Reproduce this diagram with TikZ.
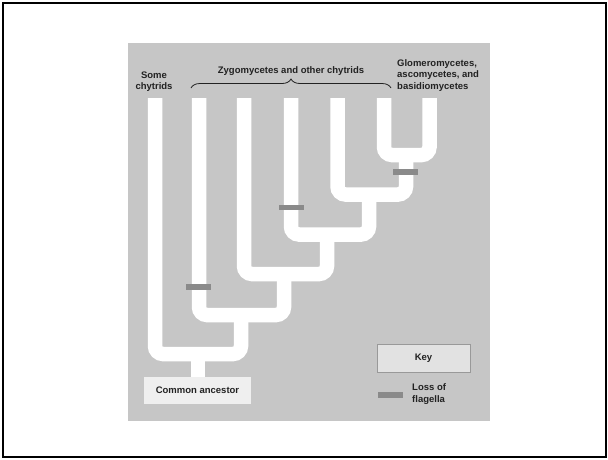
\documentclass[tikz,border=0pt]{standalone}
\usepackage{fontspec}
\setmainfont{Liberation Sans}
\usetikzlibrary{decorations.pathreplacing}

\definecolor{panelgray}{HTML}{C6C6C6}
\definecolor{lossgray}{HTML}{8A8A8A}
\definecolor{boxgray}{HTML}{EFEFEF}
\definecolor{keygray}{HTML}{E2E2E2}
\definecolor{txtgray}{HTML}{222222}

\begin{document}
\begin{tikzpicture}[x=1pt,y=-1pt,
    branch/.style={white,line width=14.5pt,rounded corners=8pt},
    lossbar/.style={fill=lossgray},
    lbl/.style={font=\bfseries\fontsize{9.5}{11.5}\selectfont,text=txtgray,inner sep=0pt}]
    \useasboundingbox (0,0) rectangle (608,459);
    \draw[line width=2pt] (3,3) rectangle (606,457);
    \fill[panelgray] (128,43) rectangle (490,421);

    % tree, top join first
    \foreach \xl/\y/\xr/\ytop in {384/155/429.5/98, 337.5/194.5/406/155,
        291/234.5/369/194.5, 244/274/327/234.5, 199/315/284/274, 155/354/241/315}
        \draw[branch] (\xl,98) -- (\xl,\y) -- (\xr,\y) -- (\xr,\ytop);
    \draw[branch] (198,354) -- (198,378);

    % loss of flagella
    \fill[lossbar] (392.5,169) rectangle (417.5,174.5);
    \fill[lossbar] (278.5,204.5) rectangle (303.5,210);
    \fill[lossbar] (186,284) rectangle (211,289.5);

    \node[lbl,align=center] (some) at (154,81.5) {Some\\chytrids};
    \node[lbl] (zygo) at (291,71) {Zygomycetes and other chytrids};
    \draw[decorate,decoration={brace,amplitude=9pt},line width=0.8pt,txtgray]
        (191,88) -- (391,88);
    \node[lbl,align=left,anchor=west] (glom) at (397,75.5)
        {Glomeromycetes,\\ascomycetes, and\\basidiomycetes};

    \node[lbl,fill=boxgray,minimum width=107pt,minimum height=27pt] (ancestor)
        at (197.5,390.5) {Common ancestor};

    % key
    \node[lbl,fill=keygray,draw=gray!80,line width=1pt,minimum width=93pt,minimum height=28pt] (key)
        at (423.5,358) {Key};
    \fill[lossbar] (378,392) rectangle (403,397.5);
    \node[lbl,align=left,anchor=west] (loss) at (412,394) {Loss of\\flagella};
\end{tikzpicture}
\end{document}
